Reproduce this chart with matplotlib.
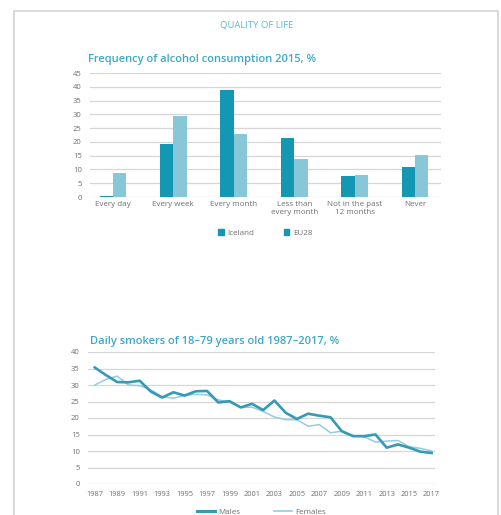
import numpy as np
import matplotlib.pyplot as plt
from matplotlib.patches import Rectangle, Patch
from matplotlib.lines import Line2D

plt.rcParams['font.family'] = ['Open Sans', 'DejaVu Sans']

# Alcohol consumption frequency, 2015 (%)
categories = ['Every day', 'Every week', 'Every month', 'Less than\nevery month',
              'Not in the past\n12 months', 'Never']
iceland = [0.4, 19.4, 39.0, 21.5, 7.5, 11.0]
eu28 = [8.8, 29.4, 22.8, 13.8, 8.1, 15.2]

# Daily smokers aged 18-79 (%)
years = list(range(1987, 2018))
males = [35.3, 33.0, 30.9, 30.8, 31.3, 28.0, 26.2, 27.8, 26.8, 28.1, 28.2,
         24.7, 25.1, 23.2, 24.3, 22.4, 25.3, 21.6, 19.7, 21.3, 20.7, 20.2,
         16.0, 14.5, 14.5, 15.0, 11.0, 12.0, 11.0, 9.8, 9.4]
females = [30.0, 31.7, 32.7, 30.0, 29.8, 28.5, 26.5, 26.0, 26.8, 27.2, 27.0,
           25.5, 24.8, 23.2, 23.3, 22.0, 20.3, 19.5, 19.5, 17.5, 18.0, 15.5,
           16.0, 14.7, 14.3, 12.7, 13.0, 13.2, 11.3, 10.8, 10.0]
year_ticks = list(range(1987, 2018, 2))

dark = '#1397b3'
light = '#88c7d8'
male_col = '#3599b8'
female_col = '#94cddc'
title_col = '#3fa7c6'
tick_col = '#707070'
grid_col = '#d6d6d6'

W, H = 502, 515
fig = plt.figure(figsize=(W / 100, H / 100), dpi=100)


def px_axes(x0, y_top, x1, y_bot):
    return fig.add_axes([x0 / W, 1 - y_bot / H, (x1 - x0) / W, (y_bot - y_top) / H])


# page frame
fig.add_artist(Rectangle((14 / W, -0.05), (498 - 14) / W, 1.05 - 11 / H,
                         transform=fig.transFigure, fill=False,
                         edgecolor='#d3d3d3', linewidth=1.2))
fig.text(257 / W, 1 - 25 / H, 'QUALITY OF LIFE', ha='center', va='center',
         fontsize=6.8, color='#5db9d2')


def style(ax, ymax):
    for s in ax.spines.values():
        s.set_visible(False)
    ax.set_ylim(0, ymax)
    ax.set_yticks(np.arange(0, ymax + 1, 5))
    ax.yaxis.grid(True, color=grid_col, linewidth=0.9)
    ax.set_axisbelow(True)
    ax.tick_params(length=0, colors=tick_col, labelsize=5.5)
    ax.tick_params(axis='y', pad=6)


# bar chart
ax1 = px_axes(90, 73, 441, 197)
style(ax1, 45)
x = np.arange(len(categories))
w = 0.222
ax1.bar(x - w / 2, iceland, w, color=dark)
ax1.bar(x + w / 2, eu28, w, color=light)
ax1.set_xlim(-0.38, 5.43)
ax1.set_xticks(x)
ax1.set_xticklabels(categories, linespacing=1.15)
ax1.tick_params(axis='x', pad=3, labelsize=5.8)
ax1.set_title('Frequency of alcohol consumption 2015, %', loc='left', x=-0.005,
              fontsize=8, color=title_col, fontweight='semibold', pad=8)
ax1.legend(handles=[Patch(color=dark, label='Iceland'), Patch(color=dark, label='EU28')],
           loc='upper center', bbox_to_anchor=(0.5, -0.2), ncol=2, frameon=False,
           fontsize=5.8, handlelength=0.7, handleheight=0.7, columnspacing=3.6,
           handletextpad=0.5, labelcolor=tick_col)

# line chart
ax2 = px_axes(88, 352, 435, 484)
style(ax2, 40)
ax2.plot(years, females, color=female_col, linewidth=1.1)
ax2.plot(years, males, color=male_col, linewidth=1.9)
ax2.set_xlim(1986.4, 2017.3)
ax2.set_xticks(year_ticks)
ax2.tick_params(axis='x', pad=5, labelsize=5.4)
ax2.set_title('Daily smokers of 18\u201379 years old 1987\u20132017, %', loc='left',
              x=0.005, fontsize=8, color=title_col, fontweight='semibold', pad=6)
ax2.legend(handles=[Line2D([], [], color=male_col, linewidth=2.2, label='Males'),
                    Line2D([], [], color=female_col, linewidth=1.2, label='Females')],
           loc='upper center', bbox_to_anchor=(0.5, -0.13), ncol=2, frameon=False,
           fontsize=5.8, handlelength=2.2, columnspacing=4.3, handletextpad=0.4,
           labelcolor=tick_col)

fig.savefig('out.png', dpi=100)
